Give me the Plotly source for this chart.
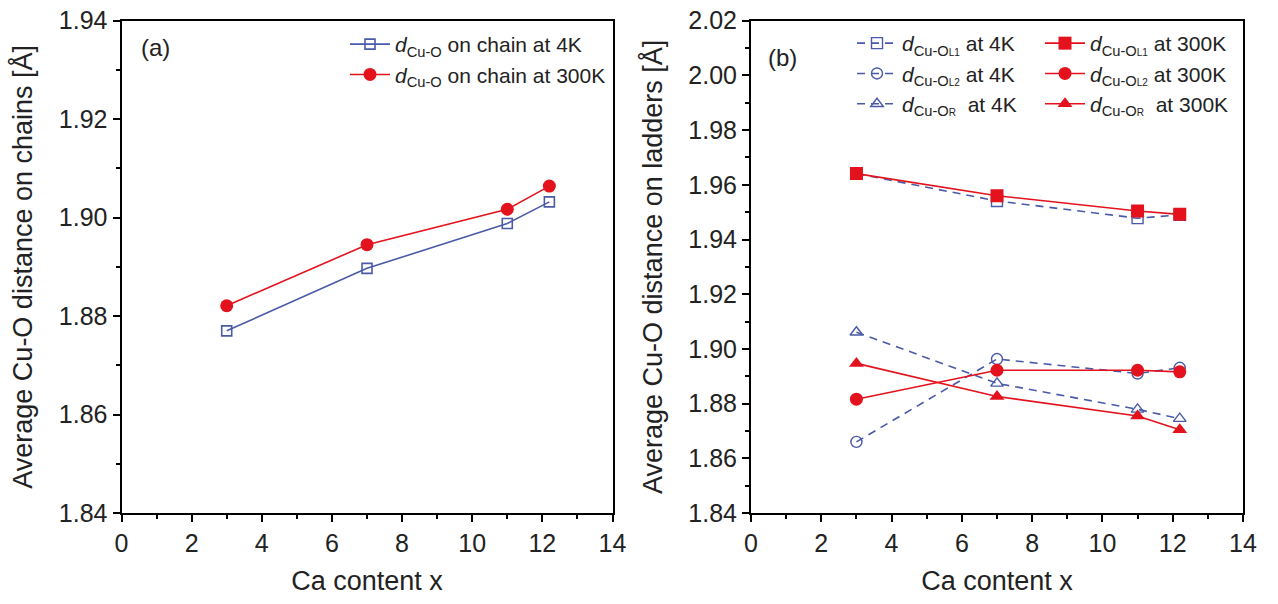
import plotly.graph_objects as go

# ---------------- data ----------------
ca_content = [3, 7, 11, 12.2]

# panel (a): chains
chain_4K = [1.8770, 1.8897, 1.8988, 1.9032]
chain_300K = [1.8821, 1.8945, 1.9017, 1.9064]

# panel (b): ladders
L1_4K = [1.9641, 1.9541, 1.9478, 1.9490]
L1_300K = [1.9641, 1.9560, 1.9504, 1.9492]
L2_4K = [1.8660, 1.8963, 1.8910, 1.8931]
L2_300K = [1.8816, 1.8922, 1.8922, 1.8916]
R_4K = [1.9061, 1.8874, 1.8779, 1.8745]
R_300K = [1.8947, 1.8826, 1.8755, 1.8704]

x_ticks = [0, 2, 4, 6, 8, 10, 12, 14]
ya_ticks = [1.84, 1.86, 1.88, 1.90, 1.92, 1.94]
yb_ticks = [1.84, 1.86, 1.88, 1.90, 1.92, 1.94, 1.96, 1.98, 2.00, 2.02]

BLUE = "#4a5aa8"
RED = "#e3121c"
W, H = 1278, 604
FONT = "Liberation Sans, Arial, sans-serif"

fig = go.Figure()

def lab(sub, small, temp):
    s = "<i>d</i><sub>" + sub
    if small:
        s += "<span style='font-size:10px'>" + small + "</span>"
    s += "</sub>"
    return s + temp

# panel (a)
fig.add_trace(go.Scatter(x=ca_content, y=chain_4K, mode="lines+markers", xaxis="x", yaxis="y",
                         line=dict(color=BLUE, width=1.6),
                         marker=dict(symbol="square-open", size=10, color=BLUE, line=dict(width=1.6)),
                         name=lab("Cu-O", "", " on chain at 4K"), legend="legend"))
fig.add_trace(go.Scatter(x=ca_content, y=chain_300K, mode="lines+markers", xaxis="x", yaxis="y",
                         line=dict(color=RED, width=1.6),
                         marker=dict(symbol="circle", size=13, color=RED),
                         name=lab("Cu-O", "", " on chain at 300K"), legend="legend"))

# panel (b) 4K dashed open
dash = "8px,6px"
for ys, sym, nm in [(L1_4K, "square-open", lab("Cu-O", "L1", " at 4K")),
                    (L2_4K, "circle-open", lab("Cu-O", "L2", " at 4K")),
                    (R_4K, "triangle-up-open", lab("Cu-O", "R", "  at 4K"))]:
    fig.add_trace(go.Scatter(x=ca_content, y=ys, mode="lines+markers", xaxis="x2", yaxis="y2",
                             line=dict(color=BLUE, width=1.6, dash=dash),
                             marker=dict(symbol=sym, size=11, color=BLUE, line=dict(width=1.4)),
                             name=nm, legend="legend2"))
for ys, sym, nm in [(L1_300K, "square", lab("Cu-O", "L1", " at 300K")),
                    (L2_300K, "circle", lab("Cu-O", "L2", " at 300K")),
                    (R_300K, "triangle-up", lab("Cu-O", "R", "  at 300K"))]:
    fig.add_trace(go.Scatter(x=ca_content, y=ys, mode="lines+markers", xaxis="x2", yaxis="y2",
                             line=dict(color=RED, width=1.6),
                             marker=dict(symbol=sym, size=13, color=RED),
                             name=nm, legend="legend3"))

def xax(domain, anchor):
    return dict(domain=domain, anchor=anchor, range=[0, 14], tickvals=x_ticks,
                automargin=False,
                ticks="outside", ticklen=7, tickwidth=2, tickcolor="black",
                minor=dict(dtick=1, ticks="outside", ticklen=4, tickwidth=2, tickcolor="black"),
                showline=True, linecolor="black", linewidth=2, mirror=True,
                showgrid=False, zeroline=False,
                tickfont=dict(size=25, color="#222", family=FONT),
                title=dict(text="Ca content x", font=dict(size=27, color="#222", family=FONT), standoff=15))

def yax(domain, anchor, rng, ticks, title):
    return dict(domain=domain, anchor=anchor, range=rng, tickvals=ticks,
                automargin=False, tickformat=".2f",
                ticks="outside", ticklen=7, tickwidth=2, tickcolor="black",
                minor=dict(dtick=0.01, ticks="outside", ticklen=4, tickwidth=2, tickcolor="black"),
                showline=True, linecolor="black", linewidth=2, mirror=True,
                showgrid=False, zeroline=False,
                tickfont=dict(size=25, color="#222", family=FONT),
                title=dict(text=title, font=dict(size=27, color="#222", family=FONT), standoff=18))

ydom = [1 - 513 / H, 1 - 20.7 / H]
LEGFONT = dict(size=21, color="#222", family=FONT)
fig.update_layout(
    width=W, height=H,
    margin=dict(l=0, r=0, t=0, b=0, autoexpand=False),
    paper_bgcolor="white", plot_bgcolor="white",
    font=dict(family=FONT, color="#222"),
    xaxis=xax([121.5 / W, 612.5 / W], "y"),
    yaxis=yax(ydom, "x", [1.84, 1.94], ya_ticks, "Average Cu-O distance on chains [Å]"),
    xaxis2=xax([751 / W, 1243 / W], "y2"),
    yaxis2=yax(ydom, "x2", [1.84, 2.02], yb_ticks, "Average Cu-O distance on ladders [Å]"),
    legend=dict(x=345 / W, y=1 - 24 / H, xanchor="left", yanchor="top",
                bgcolor="rgba(0,0,0,0)", font=LEGFONT, itemwidth=40, tracegroupgap=0),
    legend2=dict(x=852 / W, y=1 - 23 / H, xanchor="left", yanchor="top",
                 bgcolor="rgba(0,0,0,0)", font=LEGFONT, itemwidth=40, tracegroupgap=0),
    legend3=dict(x=1040 / W, y=1 - 23 / H, xanchor="left", yanchor="top",
                 bgcolor="rgba(0,0,0,0)", font=LEGFONT, itemwidth=40, tracegroupgap=0),
    annotations=[
        dict(text="(a)", x=0.035, y=0.945, xref="x domain", yref="y domain",
             xanchor="left", yanchor="middle", showarrow=False,
             font=dict(size=24, color="#222", family=FONT)),
        dict(text="(b)", x=0.03, y=0.926, xref="x2 domain", yref="y2 domain",
             xanchor="left", yanchor="middle", showarrow=False,
             font=dict(size=24, color="#222", family=FONT)),
    ],
)

fig.write_html("out.html")
